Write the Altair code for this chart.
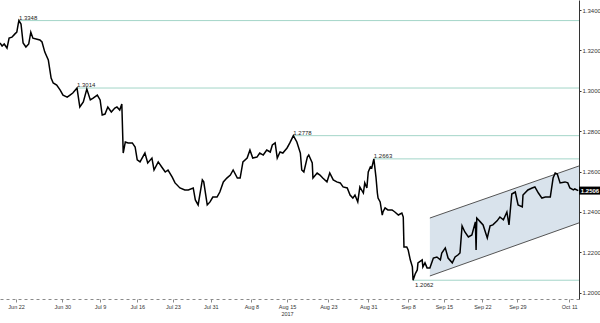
import json
import altair as alt
import pandas as pd

# ---- price series (trading-session index, price) ----
session = [
    0.0, 0.3, 0.6, 1.0, 1.3, 1.7, 2.1, 2.4, 2.6, 2.7, 3.0, 3.3, 3.7, 4.1, 4.4, 4.7, 5.3, 5.7, 6.0, 6.4,
    6.9, 7.3, 7.6, 8.1, 8.6, 9.0, 9.6, 10.0, 10.4, 11.0, 11.4, 11.9, 12.4, 12.9, 13.3, 13.9, 14.3, 14.6, 15.0, 15.4,
    15.9, 16.4, 16.7, 17.1, 17.4, 17.6, 17.9, 18.3, 18.9, 19.3, 19.6, 20.0, 20.7, 21.1, 21.7, 22.0, 22.6, 23.1, 23.6, 24.0,
    24.6, 25.0, 25.7, 26.4, 26.9, 27.6, 27.9, 28.3, 28.9, 29.1, 29.6, 30.0, 30.4, 31.0, 31.4, 31.9, 32.4, 32.9, 33.3, 33.9,
    34.3, 34.7, 35.3, 35.7, 36.1, 36.7, 37.1, 37.6, 38.1, 38.6, 38.9, 39.3, 39.6, 40.0, 40.4, 41.0, 41.4, 41.9, 42.4, 42.9,
    43.1, 43.4, 43.9, 44.1, 44.6, 44.7, 45.3, 45.7, 46.1, 46.7, 47.1, 47.6, 48.1, 48.6, 49.0, 49.6, 50.0, 50.4, 50.7, 51.1,
    51.4, 51.9, 52.1, 52.4, 52.6, 52.9, 53.1, 53.4, 53.7, 53.9, 54.0, 54.3, 54.6, 54.7, 55.0, 55.4, 56.0, 56.4, 56.9, 57.4,
    57.6, 57.7, 58.1, 58.3, 58.6, 58.9, 59.0, 59.3, 59.6, 59.7, 60.3, 60.4, 60.7, 61.0, 61.4, 61.9, 62.4, 62.9, 63.1, 63.6,
    64.0, 64.6, 65.0, 65.4, 65.7, 66.0, 66.4, 66.9, 67.4, 67.9, 68.0, 68.1, 68.6, 69.0, 69.6, 70.0, 70.4, 71.0, 71.4, 71.9,
    72.4, 72.7, 73.1, 73.6, 74.0, 74.6, 74.7, 75.4, 76.0, 76.4, 76.9, 77.4, 77.9, 78.6, 79.0, 79.3, 79.6, 80.0, 80.7, 81.1,
    81.4, 81.9, 82.1, 82.6,
]
price = [
    1.3237, 1.3222, 1.3232, 1.3212, 1.3261, 1.3266, 1.3281, 1.3291, 1.3331, 1.3348, 1.3331, 1.3237, 1.3217, 1.3232, 1.3291, 1.3261, 1.3256, 1.3252, 1.3242, 1.3192,
    1.3153, 1.3063, 1.3039, 1.3029, 1.3004, 1.2979, 1.2969, 1.2979, 1.2989, 1.3014, 1.2920, 1.2945, 1.3009, 1.2955, 1.2964, 1.2979, 1.2955, 1.2880, 1.2885, 1.2920,
    1.2895, 1.2915, 1.2920, 1.2905, 1.2935, 1.2692, 1.2747, 1.2742, 1.2742, 1.2722, 1.2658, 1.2648, 1.2692, 1.2643, 1.2667, 1.2608, 1.2648, 1.2623, 1.2598, 1.2608,
    1.2573, 1.2544, 1.2519, 1.2509, 1.2509, 1.2519, 1.2460, 1.2435, 1.2559, 1.2549, 1.2435, 1.2450, 1.2474, 1.2474, 1.2499, 1.2549, 1.2568, 1.2583, 1.2608, 1.2568,
    1.2568, 1.2648, 1.2667, 1.2707, 1.2667, 1.2672, 1.2692, 1.2682, 1.2707, 1.2697, 1.2732, 1.2742, 1.2667, 1.2697, 1.2692, 1.2717, 1.2742, 1.2778, 1.2747, 1.2692,
    1.2608, 1.2598, 1.2672, 1.2682, 1.2643, 1.2568, 1.2593, 1.2583, 1.2568, 1.2549, 1.2593, 1.2559, 1.2549, 1.2544, 1.2524, 1.2519, 1.2484, 1.2469, 1.2484, 1.2450,
    1.2524, 1.2494, 1.2544, 1.2519, 1.2598, 1.2623, 1.2618, 1.2663, 1.2573, 1.2494, 1.2469, 1.2450, 1.2385, 1.2400, 1.2420, 1.2410, 1.2410, 1.2400, 1.2385, 1.2395,
    1.2375, 1.2227, 1.2227, 1.2212, 1.2163, 1.2128, 1.2062, 1.2093, 1.2113, 1.2148, 1.2163, 1.2128, 1.2148, 1.2123, 1.2123, 1.2172, 1.2177, 1.2163, 1.2197, 1.2222,
    1.2172, 1.2148, 1.2177, 1.2187, 1.2197, 1.2331, 1.2301, 1.2276, 1.2286, 1.2351, 1.2212, 1.2370, 1.2351, 1.2336, 1.2271, 1.2331, 1.2336, 1.2356, 1.2375, 1.2361,
    1.2400, 1.2336, 1.2489, 1.2499, 1.2435, 1.2425, 1.2484, 1.2509, 1.2519, 1.2524, 1.2494, 1.2469, 1.2474, 1.2474, 1.2568, 1.2593, 1.2588, 1.2544, 1.2549, 1.2544,
    1.2519, 1.2509, 1.2514, 1.2506,
]

# ---- marked levels ----
levels = [1.3348, 1.3014, 1.2778, 1.2663, 1.2062]
level_start = [2.7, 11.0, 41.9, 53.4, 59.0]
level_side = ["above", "above", "above", "above", "below"]

# ---- rising channel ----
channel_x = [61.4, 82.7]
channel_upper = [1.2370, 1.2628]
channel_lower = [1.2083, 1.2346]

# ---- axes ----
tick_pos = [2.3, 8.9, 14.3, 19.6, 24.7, 30.1, 35.9, 41.0, 46.9, 52.6, 58.3, 63.4, 68.9, 73.9, 81.3]
tick_labels = ["Jun 22", "Jun 30", "Jul 9", "Jul 16", "Jul 23", "Jul 31", "Aug 8", ["Aug 15", "2017"],
               "Aug 23", "Aug 31", "Sep 8", "Sep 15", "Sep 22", "Sep 29", "Oct 11"]
y_ticks = [1.20, 1.22, 1.24, 1.26, 1.28, 1.30, 1.32, 1.34]
last_price = 1.2506

X_DOMAIN = [0, 82.7]
Y_DOMAIN = [1.1969, 1.3450]

FONT = "Liberation Sans"
xs = alt.Scale(domain=X_DOMAIN, nice=False, zero=False)
ys = alt.Scale(domain=Y_DOMAIN, nice=False, zero=False)

df = pd.DataFrame({"s": session, "p": price})
lv = pd.DataFrame({"s": level_start, "p": levels, "side": level_side,
                   "e": [X_DOMAIN[1]] * len(levels)})
lv["label"] = [f"{v:.4f}" for v in levels]
ch = pd.DataFrame({"s": channel_x, "hi": channel_upper, "lo": channel_lower})
last = pd.DataFrame({"s": [X_DOMAIN[1]], "p": [last_price], "label": [f"{last_price:.4f}"]})

label_expr = f"{json.dumps(tick_labels)}[indexof({json.dumps(tick_pos)}, datum.value)]"

x_axis = alt.Axis(values=tick_pos, labelExpr=label_expr, orient="bottom", title=None,
                  domainColor="#8a8a8a", domainDash=[3, 3], tickColor="#8a8a8a", tickSize=3,
                  labelFont=FONT, labelFontSize=5.5, labelColor="#333333", labelPadding=2,
                  labelOverlap=False, labelBound=False, labelFlush=False, labelAngle=0,
                  labelLineHeight=7, grid=False)
y_axis = alt.Axis(values=y_ticks, orient="right", format=".4f", title=None,
                  domainColor="#333333", tickColor="#333333", tickSize=2,
                  labelFont=FONT, labelFontSize=6, labelColor="#333333", labelPadding=1,
                  grid=False, labelOverlap=False)


def X(field):
    return alt.X(field, type="quantitative", scale=xs, axis=x_axis)


def Y(field):
    return alt.Y(field, type="quantitative", scale=ys, axis=y_axis)


area = alt.Chart(ch).mark_area(color="#d9e3ec", opacity=1).encode(
    x=X("s"), y=Y("hi"), y2="lo:Q")
upper = alt.Chart(ch).mark_line(color="#555555", strokeWidth=1).encode(x=X("s"), y=Y("hi"))
lower = alt.Chart(ch).mark_line(color="#555555", strokeWidth=1).encode(x=X("s"), y=Y("lo"))

rules = alt.Chart(lv).mark_rule(color="#a3d5c8", strokeWidth=1).encode(
    x=X("s"), x2="e:Q", y=Y("p"))

line = alt.Chart(df).mark_line(color="#000000", strokeWidth=1.5, strokeJoin="miter").encode(
    x=X("s"), y=Y("p"))

lab_above = alt.Chart(lv).transform_filter("datum.side == 'above'").mark_text(
    align="left", baseline="bottom", dy=0, fontSize=6, font=FONT, color="#222222").encode(
    x=X("s"), y=Y("p"), text="label:N")
lab_below = alt.Chart(lv).transform_filter("datum.side == 'below'").mark_text(
    align="left", baseline="top", dx=2, dy=2, fontSize=6, font=FONT, color="#222222").encode(
    x=X("s"), y=Y("p"), text="label:N")

box = alt.Chart(last).mark_rect(color="#000000", x2Offset=21, yOffset=-4, y2Offset=4).encode(
    x=X("s"), x2="s:Q", y=Y("p"), y2="p:Q")
box_txt = alt.Chart(last).mark_text(color="#ffffff", fontSize=6, font=FONT, fontWeight="bold",
                                    align="center", baseline="middle", dx=11).encode(
    x=X("s"), y=Y("p"), text="label:N")

chart = alt.layer(area, rules, upper, lower, line, lab_above, lab_below, box, box_txt).properties(
    width=579, height=299, autosize="none",
    padding={"left": 0, "top": 0, "right": 21, "bottom": 24},
    background="#ffffff",
).configure_view(stroke=None)

chart.save("out.html", embed_options={"renderer": "svg", "actions": False})
